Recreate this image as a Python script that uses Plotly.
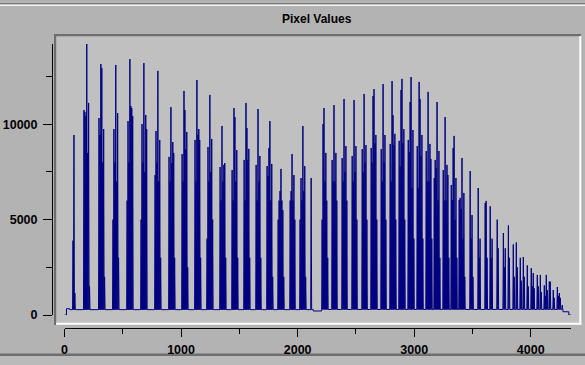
import plotly.graph_objects as go

# ---------------- data (sample index domain) ----------------
# baseline level: piecewise constant, value applies from knot to next knot
base_idx = [0, 17, 45, 2135, 2205, 4276, 4326]
base_val = [0, 330, 280, 210, 290, 170, 0]
x_end = 4345

# spike clusters: start sample index and successive peak values
band_start = [73, 167, 296, 416, 537, 657, 777, 897, 1009, 1120,
              1223, 1335, 1438, 1541, 1644, 1738, 1833, 1936, 2021, 2116,
              2210, 2296, 2382, 2468, 2554, 2631, 2717, 2794, 2871, 2949,
              3026, 3103, 3172, 3249, 3318, 3386, 3480, 3549, 3609, 3652,
              3712, 3765, 3808, 3850, 3876, 3910, 3936, 3970, 4004, 4021,
              4056, 4082, 4116, 4133, 4159, 4193, 4228, 4245, 4253, 4270]
band_peaks = [
    [3900, 9440, 1150],
    [10750, 10650, 10430, 14210, 8500, 11120, 1500],
    [10330, 9440, 13160, 12950, 8000, 9750, 2000],
    [5000, 9750, 8000, 13110, 7000, 10590, 3000],
    [6000, 10170, 8000, 13420, 10960, 10850, 10430],
    [5000, 10010, 8000, 13210, 7500, 10490, 9750],
    [7340, 9650, 8000, 12800, 7000, 9180, 3000],
    [8290, 7000, 10900, 7970, 9070, 8500, 3000],
    [8440, 7000, 11750, 10750, 8700, 9600, 2500],
    [9180, 7000, 12320, 9440, 9750, 9180, 3000],
    [4000, 8810, 7000, 11540, 7500, 9230, 5000],
    [7760, 6000, 9910, 7000, 7870, 7970, 3000],
    [7600, 6000, 10850, 10380, 7000, 8650, 3000],
    [8130, 6000, 11120, 9800, 8130, 8710, 3000],
    [7870, 6000, 10800, 7000, 8340, 3000],
    [7810, 7290, 8760, 10170, 6000, 7920, 2000],
    [5000, 6000, 6500, 7660, 6000, 5500, 2000],
    [6000, 6500, 8440, 6000, 7340, 5000],
    [5000, 7180, 6000, 9910, 6500, 7810, 2000],
    [7180],
    [5000, 10010, 10850, 7000, 8500, 6000, 3000],
    [8130, 7000, 11010, 7000, 8500, 6000],
    [8230, 7000, 11330, 7500, 8860, 6000],
    [8340, 7000, 11270, 7500, 8860, 5000],
    [8700, 7500, 11590, 8000, 8910, 5000],
    [8760, 8000, 11480, 11850, 9000, 9440, 5000],
    [8700, 7000, 12110, 8000, 9440, 5000],
    [8970, 7000, 12270, 10480, 8900, 9500, 5000],
    [9130, 7810, 11800, 12380, 9000, 9750, 5000],
    [9180, 8550, 11170, 12480, 6660, 9700, 4000],
    [8860, 6660, 12220, 11330, 8340, 9440, 4000],
    [8600, 7000, 11700, 7000, 8970, 8180, 4000],
    [7180, 8130, 7710, 11170, 6000, 8600, 3000],
    [7600, 6000, 10380, 6000, 7870, 7340, 3000],
    [6820, 6030, 8760, 9390, 5000, 7180, 3000],
    [6030, 6140, 5560, 8230, 4000, 6400, 2000],
    [7550, 4000, 5240, 2000],
    [6660, 3000, 4000],
    [5870, 5980, 3000],
    [5700, 3000, 4000],
    [5000, 3500],
    [4300, 2500, 3500],
    [4700, 3000],
    [3700, 2000],
    [3800, 2500],
    [3000, 1800],
    [3040, 2000],
    [2600, 1500],
    [2450, 1500],
    [2200, 1400],
    [2100, 1500],
    [2100, 1200],
    [1550, 1000],
    [2100, 1300],
    [1750, 1750],
    [1310, 900],
    [1470, 1000],
    [1150],
    [900],
    [520],
]

# ---------------- build the line ----------------
def base_at(s):
    v = base_val[0]
    for k, b in zip(base_idx, base_val):
        if s >= k:
            v = b
    return v

xs, ys = [], []


def add_base(a, b):
    if not xs:
        xs.append(a); ys.append(base_at(a))
    for k in base_idx:
        if a < k <= b:
            xs.append(k); ys.append(base_at(k - 0.5))
            xs.append(k); ys.append(base_at(k))
    xs.append(b); ys.append(base_at(b))


cur = 0
for start, peaks in zip(band_start, band_peaks):
    add_base(cur, start - 4)
    for k, p in enumerate(peaks):
        s = start + 8 * k
        if k > 0:
            xs.append(s - 4); ys.append(base_at(s - 4))
        xs.append(s); ys.append(p)
    cur = start + 8 * (len(peaks) - 1) + 4
    xs.append(cur); ys.append(base_at(cur))
add_base(cur, x_end)

# ---------------- figure ----------------
W, H = 585, 365
ML, MR, MT, MB = 52, 5, 30, 37
PW = W - ML - MR
PH = H - MT - MB


def px(x):
    return (x - ML) / PW


def py(y):
    return (H - MB - y) / PH


fig = go.Figure()
fig.add_trace(go.Scatter(x=xs, y=ys, mode="lines",
                         line=dict(color="#000080", width=1, simplify=False),
                         hoverinfo="skip", showlegend=False))

outer = "#b3b3b3"
shapes = [
    # header separator lines
    dict(type="rect", xref="paper", yref="paper", x0=px(0), x1=px(585), y0=py(3), y1=py(4.5),
         fillcolor="#7a7a7a", line_width=0, layer="below"),
    dict(type="rect", xref="paper", yref="paper", x0=px(0), x1=px(585), y0=py(4.5), y1=py(6),
         fillcolor="#f4f4f4", line_width=0, layer="below"),
    # bottom separator
    dict(type="rect", xref="paper", yref="paper", x0=px(0), x1=px(585), y0=py(353.5), y1=py(356),
         fillcolor="#6e6e6e", line_width=0, layer="below"),
    dict(type="rect", xref="paper", yref="paper", x0=px(0), x1=px(585), y0=py(356), y1=py(365),
         fillcolor="#bababa", line_width=0, layer="below"),
    # plot box
    dict(type="rect", xref="paper", yref="paper", x0=px(54), x1=px(581), y0=py(34), y1=py(325),
         fillcolor="#c0c0c0", line_width=0, layer="below"),
    dict(type="rect", xref="paper", yref="paper", x0=px(54), x1=px(581), y0=py(34), y1=py(36.3),
         fillcolor="#6e6e6e", line_width=0, layer="below"),
    dict(type="rect", xref="paper", yref="paper", x0=px(54), x1=px(56.2), y0=py(34), y1=py(325),
         fillcolor="#6e6e6e", line_width=0, layer="below"),
    dict(type="rect", xref="paper", yref="paper", x0=px(56), x1=px(581.3), y0=py(322.7), y1=py(324.8),
         fillcolor="#ffffff", line_width=0, layer="below"),
    dict(type="rect", xref="paper", yref="paper", x0=px(579.3), x1=px(581.3), y0=py(36), y1=py(324.8),
         fillcolor="#ffffff", line_width=0, layer="below"),
]

tickfont = dict(family="Liberation Sans, Arial, sans-serif", size=12.5, color="black", weight="bold")

fig.update_layout(
    width=W, height=H,
    margin=dict(l=ML, r=MR, t=MT, b=MB, autoexpand=False),
    paper_bgcolor=outer,
    plot_bgcolor="rgba(0,0,0,0)",
    shapes=shapes,
    annotations=[dict(text="Pixel Values", xref="paper", yref="paper", x=px(317), y=py(18.5),
                      xanchor="center", yanchor="middle", showarrow=False,
                      font=dict(family="Liberation Sans, Arial, sans-serif", size=12, color="black",
                                weight="bold"))],
    xaxis=dict(domain=[px(64.5), px(571)], anchor="free", position=0,
               range=[0, x_end], showgrid=False, zeroline=False,
               showline=True, linecolor="black", linewidth=1,
               ticks="outside", ticklen=8, tickwidth=1, tickcolor="black",
               tick0=0, dtick=1000, tickformat="d", tickfont=tickfont, ticklabelstandoff=2,
               minor=dict(dtick=500, tick0=0, ticks="outside", ticklen=5, tickwidth=1,
                          tickcolor="black", showgrid=False)),
    yaxis=dict(domain=[py(315), py(44)], anchor="free", position=0,
               range=[0, 14210], showgrid=False, zeroline=False,
               showline=True, linecolor="black", linewidth=1,
               ticks="outside", ticklen=9, tickwidth=1, tickcolor="black",
               tick0=0, dtick=5000, tickformat="d", tickfont=tickfont, ticklabelstandoff=3,
               minor=dict(dtick=2500, tick0=0, ticks="outside", ticklen=6, tickwidth=1,
                          tickcolor="black", showgrid=False)),
)

fig.write_html("out.html", config={"displayModeBar": False},
               post_script="document.body.style.margin='0';document.body.style.padding='0';"
                           "document.body.style.overflow='hidden';")
